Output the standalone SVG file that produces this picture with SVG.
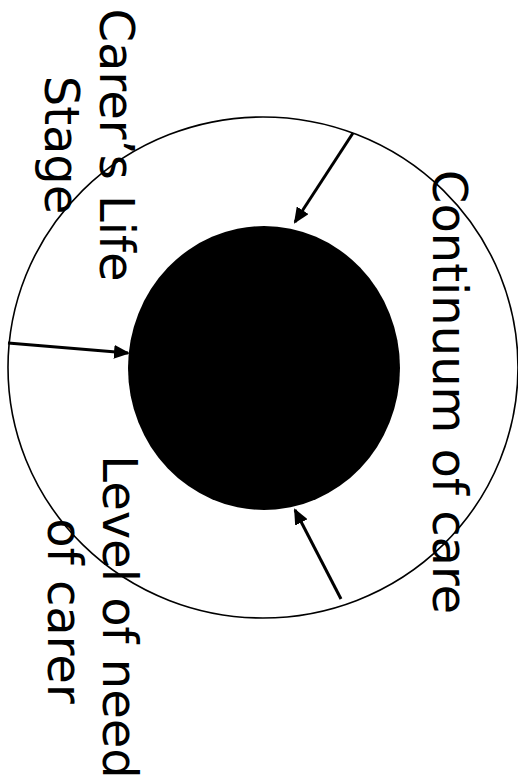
<svg xmlns="http://www.w3.org/2000/svg" width="518" height="782" viewBox="0 0 518 782">
  <style>
    .lbl { font-family: "DejaVu Sans", Verdana, sans-serif; font-size: 48px; fill: #000; text-anchor: middle; }
    .conn { stroke: #000; stroke-width: 3; fill: none; marker-end: url(#ah); }
  </style>
  <defs>
    <marker id="ah" markerUnits="userSpaceOnUse" markerWidth="16" markerHeight="14" refX="14" refY="7" orient="auto">
      <path d="M0,0 L16,7 L0,14 z" fill="#000"/>
    </marker>
  </defs>
  <rect width="518" height="782" fill="#fff"/>
  <g id="outer">
    <ellipse cx="263" cy="367.5" rx="255" ry="250.5" fill="none" stroke="#000" stroke-width="1.6"/>
  </g>
  <g id="core">
    <ellipse cx="264" cy="368" rx="136" ry="142" fill="#000"/>
  </g>
  <g id="connectors">
    <line class="conn" x1="353" y1="133" x2="295" y2="222"/>
    <line class="conn" x1="8" y1="343" x2="128" y2="353"/>
    <line class="conn" x1="341" y1="599" x2="295" y2="510"/>
  </g>
  <g id="carers-life-stage">
    <text class="lbl" transform="translate(100,145) rotate(90)">Carer’s Life</text>
    <text class="lbl" transform="translate(45,145) rotate(90)">Stage</text>
  </g>
  <g id="continuum-of-care">
    <text class="lbl" transform="translate(433,392) rotate(90)">Continuum of care</text>
  </g>
  <g id="level-of-need">
    <text class="lbl" transform="translate(103,617) rotate(90)">Level of need</text>
    <text class="lbl" transform="translate(48,611) rotate(90)">of carer</text>
  </g>
</svg>
